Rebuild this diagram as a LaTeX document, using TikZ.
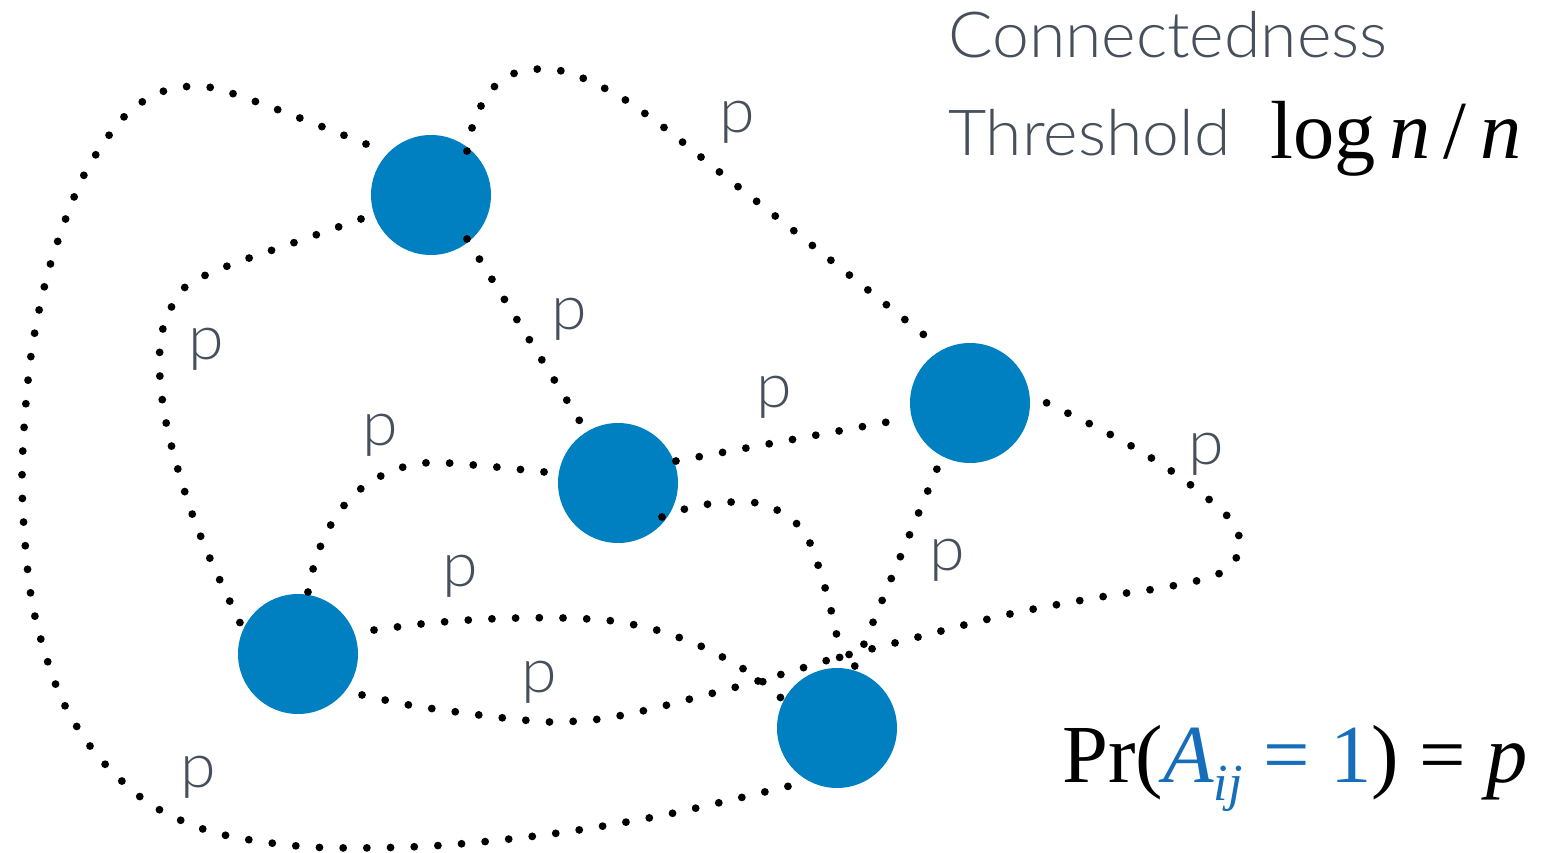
\documentclass[tikz,border=0pt]{standalone}
\usepackage{fontspec}
\usetikzlibrary{calc}
\newfontfamily\lightsans[FakeStretch=1.04]{Lato Light}
\newfontfamily\serifmath{Liberation Serif}
\definecolor{nodeblue}{RGB}{0,128,192}
\definecolor{mathblue}{RGB}{22,110,186}
\definecolor{labelgray}{RGB}{70,80,92}
\begin{document}
\begin{tikzpicture}[x=1pt,y=-1pt,
  vtx/.style={circle,fill=nodeblue,minimum size=120pt,inner sep=0pt},
  edge/.style={line width=7.8pt,line cap=round,dash pattern=on 0pt off 23.7pt},
  plabel/.style={text=labelgray,font=\lightsans\fontsize{62}{62}\selectfont,anchor=base,inner sep=0pt},
  heading/.style={text=labelgray,font=\lightsans\fontsize{63.5}{63.5}\selectfont,anchor=base west,inner sep=0pt},
  formula/.style={font=\serifmath\fontsize{82.5}{82.5}\selectfont,anchor=base west,inner sep=0pt}]
\useasboundingbox (0,0) rectangle (1559,853);

% vertices
\node[vtx] (A) at (431,195) {};
\node[vtx] (B) at (618,483) {};
\node[vtx] (C) at (970,403) {};
\node[vtx] (D) at (298,654) {};
\node[vtx] (E) at (837,728) {};

% edge end points around the vertices
\coordinate (ae0) at ($(A)+(141.9:82.6pt)$);
\coordinate (ae1) at ($(E)+(243:59.5pt)$);
\coordinate (ad0) at ($(A)+(198.9:74pt)$);
\coordinate (ad1) at ($(D)+(155.6:60.4pt)$);
\coordinate (ac0) at ($(A)+(50.7:56.8pt)$);
\coordinate (ac1) at ($(C)+(122.6:76pt)$);
\coordinate (ab0) at ($(A)+(-50.7:56.8pt)$);
\coordinate (ab1) at ($(B)+(121.7:70.5pt)$);
\coordinate (bc0) at ($(B)+(20.8:62pt)$);
\coordinate (bc1) at ($(C)+(193:84pt)$);
\coordinate (bd0) at ($(B)+(171.5:74.8pt)$);
\coordinate (bd1) at ($(D)+(81:58.7pt)$);
\coordinate (be0) at ($(B)+(-37.7:55.6pt)$);
\coordinate (be1) at ($(E)+(87.4:67pt)$);
\coordinate (ce0) at ($(C)+(243.4:74pt)$);
\coordinate (ce1) at ($(E)+(74.2:62.4pt)$);
\coordinate (dc0) at ($(D)+(-32.6:76pt)$);
\coordinate (dc1) at ($(C)+(6.3:63.4pt)$);
\coordinate (de0) at ($(D)+(17.5:79.7pt)$);
\coordinate (de1) at ($(E)+(153:59.5pt)$);

% dotted edges
\draw[edge] plot[smooth] coordinates {(ae0) (276,109) (208,87) (161,92) (122,119) (82,179) (49,269) (30,363) (22,483) (32,602) (59.5,694) (97,755) (150,804) (216,833) (311,847) (431,846) (551,834) (669,814) (ae1)};
\draw[edge] plot[smooth] coordinates {(ad0) (293,243) (225,267) (183,289) (162,332) (160,379) (167,427) (179,473) (194,519) (212,563) (ad1)};
\draw[edge] plot[smooth] coordinates {(ac0) (472,128) (481,106) (495,86) (515,73) (539,69) (562,71) (585,79) (606,89) (627,101) (666,129) (722,174) (798,234) (873,294) (ac1)};
\draw[edge] (ab0) -- (ab1);
\draw[edge] (bc0) -- (bc1);
\draw[edge] plot[smooth] coordinates {(bd0) (496,467) (448,463) (424,463) (400,468) (379,477) (358,491) (342,508) (329,528) (319,550) (312,573) (bd1)};
\draw[edge] plot[smooth] coordinates {(be0) (685,509) (709,504) (733,502) (757,503) (779,511) (798,525) (811,545) (819,568) (826,591) (832,614) (837,637) (be1)};
\draw[edge] (ce0) -- (ce1);
\draw[edge] plot[smooth] coordinates {(dc0) (409,705) (457,712) (504,718) (552,722) (600,719) (647,710) (694,698) (740,686) (786,673) (832,659) (879,647) (926,635) (972,623) (1019,612) (1066,603) (1113,595) (1161,588) (1208,578) (1229,567) (1241,547) (1234,525) (1218,507) (1180,477) (1140,451) (1098,428) (1055,407) (dc1)};
\draw[edge] plot[smooth] coordinates {(de0) (421,624) (469,620) (517,618) (565,618) (613,621) (660,631) (705,648) (747,671) (767,685) (de1)};

% edge labels
\node[plabel] (pAC) at (737,133) {p};
\node[plabel] (pAB) at (569,329) {p};
\node[plabel] (pAD) at (206,359) {p};
\node[plabel] (pBD) at (380,445) {p};
\node[plabel] (pBC) at (774,407) {p};
\node[plabel] (pCD) at (1206,464) {p};
\node[plabel] (pCE) at (947,570) {p};
\node[plabel] (pDE) at (460,586) {p};
\node[plabel] (pDC) at (539,692) {p};
\node[plabel] (pAE) at (198,787) {p};

% annotations
\node[heading] (conn) at (948,58) {Connectedness};
\node[heading] (thr) at (948,156) {Threshold};
\node[formula] (thresh) at (1270,159) {log\hspace{0.17em}\textit{n}\hspace{0.15em}/\hspace{0.17em}\textit{n}};
\node[formula] (prob) at (1062,782) {Pr(\textcolor{mathblue}{\textit{A}\raisebox{-0.22em}{\fontsize{52}{52}\selectfont\itshape ij} = 1}) = \textit{p}};
\end{tikzpicture}
\end{document}
